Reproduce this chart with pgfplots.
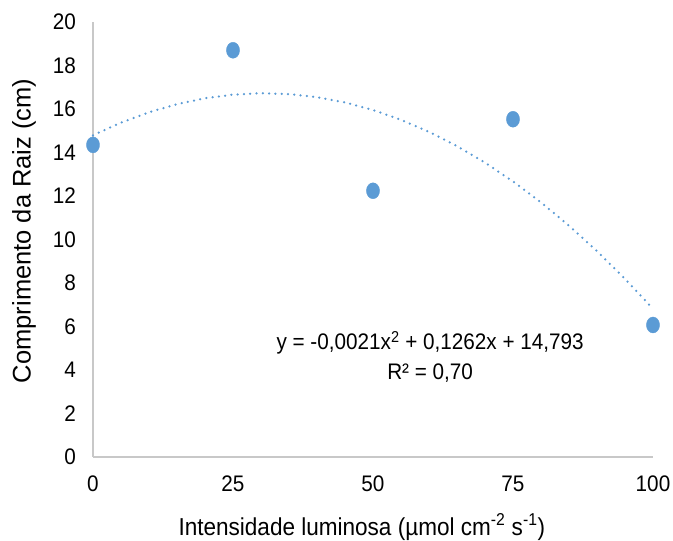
\documentclass[border=0pt]{standalone}
\usepackage{fontspec}
\setmainfont[FakeStretch=0.92]{Liberation Sans}
\newfontfamily\ylfont{Liberation Sans}
\usepackage{pgfplots}
\pgfplotsset{compat=1.18}

\definecolor{ptblue}{HTML}{5B9BD5}
\definecolor{axgray}{HTML}{C8C8C8}

\begin{document}
\begin{tikzpicture}
\begin{axis}[
  scale only axis,
  width=560pt, height=435pt,
  xmin=0, xmax=100, ymin=0, ymax=20,
  xtick={0,25,50,75,100}, ytick={0,2,...,20},
  axis x line=bottom, axis y line=left,
  axis line style={axgray, line width=1.3pt, -},
  major tick length=0pt,
  /pgf/number format/assume math mode=true,
  tick label style={font=\fontsize{22.5}{27}\selectfont, inner sep=0pt},
  xticklabel style={anchor=center, yshift=-27pt},
  yticklabel style={anchor=east, xshift=-17pt},
  xlabel={Intensidade luminosa (µmol cm\textsuperscript{-2} s\textsuperscript{-1})},
  ylabel={Comprimento da Raiz (cm)},
  xlabel style={font=\fontsize{24.5}{29}\selectfont, at={(rel axis cs:0.48,0)}, anchor=base, yshift=-78pt, inner sep=0pt},
  ylabel style={font=\ylfont\fontsize{25.5}{30}\selectfont, at={(rel axis cs:0,0.52)}, anchor=center, yshift=69pt, inner sep=0pt},
  clip=false,
]
% trend line (Excel polynomial, order 2), tabulated
\addplot[ptblue, line width=2.5pt, line cap=round, dash pattern=on 0pt off 6.3pt] coordinates {
  (0,14.793)(5,15.3725)(10,15.849)(15,16.2225)(20,16.493)(25,16.6605)
  (30,16.725)(35,16.6865)(40,16.545)(45,16.3005)(50,15.953)(55,15.5025)
  (60,14.949)(65,14.2925)(70,13.533)(75,12.6705)(80,11.705)(85,10.6365)
  (90,9.465)(95,8.1905)(100,6.813)};
\addplot[only marks, mark=*, mark size=8pt, ptblue, mark options={draw=ptblue, fill=ptblue, xscale=0.82}] coordinates {
  (0,14.35)(25,18.7)(50,12.24)(75,15.53)(100,6.07)};
\node[align=center, font=\fontsize{22.5}{30}\selectfont] at (axis cs:60.2,4.6)
  {y = -0,0021x\textsuperscript{2} + 0,1262x + 14,793\\R² = 0,70};
\end{axis}
\pgfresetboundingbox
\path ([xshift=-93pt,yshift=-84pt]current axis.south west) rectangle ([xshift=580pt,yshift=457pt]current axis.south west);
\end{tikzpicture}
\end{document}
